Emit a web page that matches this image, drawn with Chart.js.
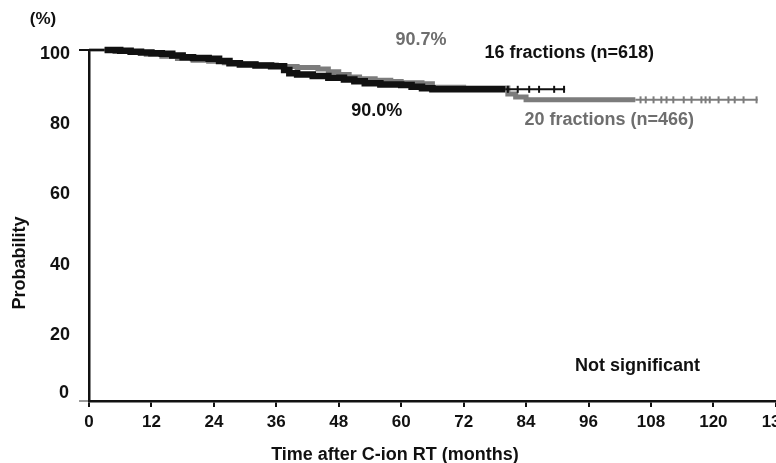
<!DOCTYPE html>
<html>
<head>
<meta charset="utf-8">
<script src="https://cdn.jsdelivr.net/npm/chart.js@4.4.1/dist/chart.umd.min.js"></script>
<style>
  html, body { margin: 0; padding: 0; background: #fff; overflow: hidden; }
  #wrap { position: relative; width: 795px; height: 463px; }
</style>
</head>
<body>
<div id="wrap"><canvas id="km"></canvas></div>
<script>
// Kaplan-Meier survival, 16 vs 20 fractions of C-ion RT
const monthTicks = [0, 12, 24, 36, 48, 60, 72, 84, 96, 108, 120, 132];
const probTicks = [0, 20, 40, 60, 80, 100];

const months16 = [0, 3, 6, 8, 10, 12, 14, 16, 18, 20, 23, 25, 27, 29, 32, 35, 37.5, 38.5, 40, 43, 46, 49, 51, 53, 56, 60, 62, 64, 66, 80, 91.5];
const prob16 = [100, 100, 99.8, 99.5, 99.3, 99.1, 98.9, 98.4, 97.9, 97.7, 97.5, 96.9, 96.2, 95.9, 95.6, 95.4, 94.3, 93.4, 93.0, 92.6, 92.1, 91.6, 91.1, 90.5, 90.2, 90.0, 89.5, 89.1, 88.8, 88.8, 88.8];
const censor16 = [80.5, 82.4, 84.6, 86.5, 89.4, 91.3];

const months20 = [0, 3, 5, 8, 11, 14, 17, 20, 23, 26, 29, 32, 36, 40, 44, 46, 48, 50, 52, 55, 58, 60, 64, 66, 72, 80.5, 82, 84, 105, 128.5];
const prob20 = [100, 100, 99.6, 99.3, 98.8, 98.2, 97.6, 97.1, 96.8, 96.4, 96.0, 95.7, 95.3, 95.0, 94.6, 93.8, 93.0, 92.3, 91.8, 91.4, 91.0, 90.7, 90.4, 89.4, 89.2, 87.5, 86.6, 85.8, 85.8, 85.8];
const censor20 = [106, 107, 108.5, 110, 111, 112.3, 114.3, 115.8, 117.7, 118.5, 119.3, 121, 122.9, 124.1, 125.8, 128.3];

const BLACK = "#111111";
const GREY = "#7c7c7c";
const GREY_TEXT = "#6e6e6e";
const FONT = "'Liberation Sans', Arial, Helvetica, sans-serif";

// text labels placed in data units (months, %)
const notes = [
    { text: "90.7%", x: 63.8, y: 102.8, color: GREY_TEXT },
    { text: "16 fractions (n=618)", x: 92.3, y: 99.1, color: BLACK },
    { text: "90.0%", x: 55.3, y: 82.6, color: BLACK },
    { text: "20 fractions (n=466)", x: 100, y: 80.1, color: GREY_TEXT },
    { text: "Not significant", x: 105.4, y: 10.0, color: BLACK },
];

function toPoints(xs, ys) {
    return xs.map((x, i) => ({ x: x, y: ys[i] }));
}

// value of the step curve at time t
function stepAt(xs, ys, t) {
    let v = ys[0];
    for (let i = 0; i < xs.length; i++) {
        if (xs[i] <= t) v = ys[i];
    }
    return v;
}

function censorPoints(times, xs, ys) {
    return times.map((t) => ({ x: t, y: stepAt(xs, ys, t) }));
}

const textPlugin = {
    id: "kmText",
    afterDraw(chart) {
        const ctx = chart.ctx;
        const xs = chart.scales.x;
        const ys = chart.scales.y;
        ctx.save();
        ctx.textAlign = "center";
        ctx.textBaseline = "middle";
        ctx.font = "bold 18px " + FONT;
        for (const n of notes) {
            ctx.fillStyle = n.color;
            ctx.fillText(n.text, xs.getPixelForValue(n.x), ys.getPixelForValue(n.y));
        }
        ctx.fillStyle = BLACK;
        ctx.fillText("Time after C-ion RT (months)", 395, 455);
        // the zero label sits a little above the x axis
        ctx.textAlign = "right";
        ctx.fillText("0", 69, ys.getPixelForValue(0) - 8);
        ctx.textAlign = "center";
        ctx.font = "bold 17px " + FONT;
        ctx.fillText("(%)", 43, 19);
        ctx.translate(20, 263);
        ctx.rotate(-Math.PI / 2);
        ctx.font = "bold 18px " + FONT;
        ctx.fillText("Probability", 0, 0);
        ctx.restore();
    },
};

new Chart(document.getElementById("km"), {
    type: "line",
    data: {
        datasets: [
            {
                label: "16 censored",
                data: censorPoints(censor16, months16, prob16),
                showLine: false,
                pointStyle: "line",
                rotation: 90,
                pointRadius: 3.5,
                pointBorderWidth: 2,
                pointBorderColor: BLACK,
                clip: false,
            },
            {
                label: "20 censored",
                data: censorPoints(censor20, months20, prob20),
                showLine: false,
                pointStyle: "line",
                rotation: 90,
                pointRadius: 3.5,
                pointBorderWidth: 2,
                pointBorderColor: GREY,
                clip: false,
            },
            {
                label: "16 fractions (n=618)",
                data: toPoints(months16, prob16),
                stepped: "before",
                borderColor: BLACK,
                pointRadius: 0,
                fill: false,
                clip: false,
                segment: {
                    borderWidth: (c) => (c.p0.parsed.x < 3 ? 2.5 : c.p0.parsed.x < 80 ? 6.5 : 2),
                },
            },
            {
                label: "20 fractions (n=466)",
                data: toPoints(months20, prob20),
                stepped: "before",
                borderColor: GREY,
                pointRadius: 0,
                fill: false,
                clip: false,
                segment: {
                    borderWidth: (c) => (c.p0.parsed.x < 3 ? 2.5 : c.p0.parsed.x < 105 ? 5 : 2),
                },
            },
        ],
    },
    options: {
        responsive: true,
        maintainAspectRatio: false,
        animation: false,
        layout: { padding: { top: 50, left: 0, right: 0, bottom: 0 } },
        plugins: {
            legend: { display: false },
            tooltip: { enabled: false },
        },
        scales: {
            x: {
                type: "linear",
                min: 0,
                max: 132,
                afterBuildTicks: (s) => { s.ticks = monthTicks.map((v) => ({ value: v })); },
                afterFit: (s) => { s.height = 62; },
                ticks: {
                    autoSkip: false,
                    maxRotation: 0,
                    padding: 5,
                    color: BLACK,
                    font: { family: FONT, size: 17, weight: "bold" },
                },
                grid: {
                    display: true,
                    drawOnChartArea: false,
                    drawTicks: true,
                    tickLength: 6,
                    lineWidth: 2,
                    color: BLACK,
                },
                border: { display: true, color: BLACK, width: 2.5 },
            },
            y: {
                min: 0,
                max: 100,
                afterBuildTicks: (s) => { s.ticks = probTicks.map((v) => ({ value: v })); },
                afterFit: (s) => { s.width = 89; },
                ticks: {
                    padding: 9,
                    labelOffset: 4,
                    color: BLACK,
                    font: { family: FONT, size: 18, weight: "bold" },
                    callback: (v) => (v === 0 ? "" : v),
                },
                grid: {
                    display: true,
                    drawOnChartArea: false,
                    drawTicks: true,
                    tickLength: 10,
                    lineWidth: 2,
                    color: (c) => (c.tick && c.tick.value === 100 ? BLACK : c.tick && c.tick.value === 0 ? "#9a9a9a" : "rgba(0,0,0,0)"),
                },
                border: { display: true, color: BLACK, width: 2.5 },
            },
        },
    },
    plugins: [textPlugin],
});
</script>
</body>
</html>
